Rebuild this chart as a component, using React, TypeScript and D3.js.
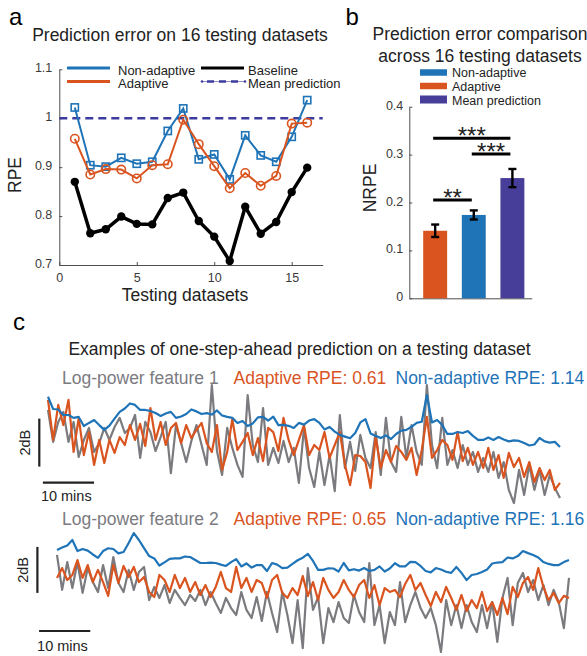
import React, { useRef, useEffect } from "react";
import * as d3 from "d3";

const W = 587;
const H = 656;
const FONT = "Arial, 'Liberation Sans', Helvetica, sans-serif";

const BLUE = "#1f74b8";
const ORANGE = "#d9541f";
const PURPLE = "#463e98";
const NAVY = "#3d3b9e";
const GRAY = "#7b7b7f";
const INK = "#222222";
const AXIS = "#4d4d4d";

// ---- panel a: RPE per testing dataset
const datasetIds = [1, 2, 3, 4, 5, 6, 7, 8, 9, 10, 11, 12, 13, 14, 15, 16];
const nonAdaptiveRpe = [1.022, 0.904, 0.901, 0.919, 0.907, 0.911, 0.974, 1.02, 0.916, 0.926, 0.875, 0.965, 0.924, 0.911, 0.962, 1.037];
const adaptiveRpe = [0.958, 0.885, 0.896, 0.895, 0.877, 0.904, 0.906, 0.997, 0.947, 0.902, 0.857, 0.888, 0.862, 0.882, 0.989, 0.991];
const baselineRpe = [0.87, 0.765, 0.773, 0.799, 0.784, 0.783, 0.837, 0.848, 0.79, 0.758, 0.708, 0.819, 0.764, 0.788, 0.849, 0.899];
const meanPredictionRpe = 1;
const rpeTicks = [0.7, 0.8, 0.9, 1.0, 1.1];
const rpeTickLabels = ["0.7", "0.8", "0.9", "1", "1.1"];
const datasetTicks = [0, 5, 10, 15];

// ---- panel b: NRPE summary
const methods = ["Adaptive", "Non-adaptive", "Mean prediction"];
const methodColors = [ORANGE, BLUE, PURPLE];
const nrpeMeans = [0.141, 0.174, 0.251];
const nrpeErrors = [0.013, 0.0095, 0.019];
const nrpeTicks = [0, 0.1, 0.2, 0.3, 0.4];
const nrpeTickLabels = ["0", "0.1", "0.2", "0.3", "0.4"];
const sigFrom = [1, 2, 1];
const sigTo = [3, 3, 2];
const sigLevels = [0.334, 0.301, 0.205];
const sigStars = ["***", "***", "**"];

// ---- panel c: example traces (dB, one sample per minute)
const featureNames = ["Log-power feature 1", "Log-power feature 2"];
const adaptiveScores = ["0.61", "0.65"];
const nonAdaptiveScores = ["1.14", "1.16"];

const feature1 = [
  3.96, 2.63, 3.46, 3.88, 2.63, 3.46, 2.0, 2.71, 3.21, 2.21,
  2.58, 3.21, 2.71, 3.25, 3.63, 3.0, 3.21, 3.75, 1.96, 3.46,
  3.04, 2.25, 2.83, 3.46, 1.33, 3.33, 2.58, 1.79, 2.67, 3.33,
  2.5, 1.67, 5.0, 2.25, 1.25, 3.21, 2.38, 1.67, 1.17, 4.58,
  2.5, 1.79, 4.04, 1.67, 2.38, 1.75, 2.67, 1.79, 2.38, 0.92,
  3.21, 1.54, 0.75, 2.21, 0.83, 2.08, 0.58, 3.75, 1.54, 2.63,
  1.42, 2.92, 1.96, 1.54, 3.04, 1.25, 3.63, 1.79, 1.38, 3.67,
  1.96, 3.33, 2.21, 1.67, 5.0, 2.5, 1.54, 3.63, 1.67, 2.29,
  1.54, 2.5, 1.67, 2.21, 1.38, 1.96, 1.38, 2.21, 1.13, 1.79,
  0.63, 0.08, 1.46, 0.42, 1.67, 0.63, 1.46, 0.42, 1.25, 0.71,
  0.29,
];
const adaptive1 = [
  4.38, 2.71, 4.17, 3.33, 4.38, 2.21, 3.63, 2.08, 3.04, 1.67,
  2.71, 1.75, 2.71, 2.17, 2.83, 2.5, 3.33, 2.71, 3.38, 2.46,
  4.04, 2.71, 3.46, 2.5, 3.21, 3.42, 2.58, 3.33, 2.79, 3.13,
  3.42, 2.58, 2.21, 3.33, 1.46, 2.21, 3.58, 2.29, 2.63, 3.0,
  2.08, 2.79, 1.83, 3.21, 3.04, 2.25, 3.63, 2.71, 2.08, 2.71,
  3.33, 2.08, 2.5, 2.29, 3.04, 1.96, 2.5, 3.04, 1.67, 0.83,
  2.08, 2.04, 1.79, 0.71, 2.83, 1.54, 2.29, 1.79, 2.46, 2.21,
  1.88, 2.38, 1.25, 2.29, 3.67, 1.96, 2.29, 2.71, 2.5, 1.88,
  3.04, 1.83, 2.38, 1.67, 2.21, 1.54, 2.38, 1.46, 2.08, 1.13,
  2.17, 1.58, 1.96, 1.17, 1.79, 0.96, 1.54, 1.04, 1.46, 0.63,
  0.92,
];
const nonAdaptive1 = [
  4.51, 4.0, 3.98, 3.75, 3.75, 3.63, 3.67, 3.29, 3.42, 3.54,
  3.33, 3.13, 3.31, 3.6, 3.88, 4.02, 4.23, 4.17, 3.96, 3.96,
  3.92, 3.83, 3.71, 3.81, 3.88, 3.63, 3.69, 3.79, 3.98, 3.9,
  3.79, 3.83, 3.77, 3.94, 3.73, 3.67, 3.63, 3.42, 3.5, 3.29,
  3.4, 3.65, 3.67, 3.52, 3.68, 3.33, 3.34, 3.3, 3.21, 3.42,
  3.35, 3.52, 3.58, 3.42, 3.15, 3.25, 3.06, 2.92, 2.85, 2.78,
  3.0, 3.44, 3.58, 2.98, 2.88, 2.79, 2.9, 2.75, 2.96, 3.1,
  3.13, 3.26, 3.42, 3.47, 4.58, 3.44, 3.54, 3.33, 2.96, 2.96,
  3.04, 3.0, 3.08, 2.88, 2.71, 2.71, 2.81, 2.71, 2.83, 2.73,
  2.65, 2.69, 2.67, 2.58, 2.48, 2.52, 2.79, 2.65, 2.6, 2.63,
  2.42,
];

const feature2 = [
  4.35, 2.83, 4.04, 2.91, 4.04, 2.7, 3.78, 3.17, 2.74, 3.91,
  2.91, 4.26, 3.13, 2.74, 3.7, 2.83, 3.61, 3.83, 2.39, 2.96,
  2.48, 3.04, 2.26, 2.83, 2.48, 2.17, 2.61, 2.35, 2.83, 2.17,
  2.74, 2.26, 1.83, 2.48, 2.04, 1.74, 2.74, 1.96, 1.61, 2.52,
  1.48, 2.74, 1.83, 1.0, 2.74, 1.74, 0.52, 2.39, 0.3, 3.78,
  1.96, 2.52, 0.52, 2.04, 1.43, 2.3, 1.61, 1.39, 2.61, 1.87,
  1.43, 4.0, 1.3, 2.17, 0.52, 1.87, 1.3, 3.17, 1.43, 2.17,
  2.74, 2.04, 1.61, 2.04, 1.3, 0.13, 2.39, 1.3, 2.17, 1.17,
  2.17, 1.43, 1.0, 2.17, 1.17, 2.3, 0.57, 2.48, 3.35, 1.3,
  3.13, 3.57, 2.74, 3.26, 2.39, 3.04, 2.17, 2.83, 2.3, 1.17,
  3.35,
];
const adaptive2 = [
  3.35, 3.78, 3.26, 3.48, 4.13, 3.35, 3.91, 3.17, 3.7, 3.17,
  2.57, 3.91, 3.13, 3.87, 3.39, 3.83, 3.17, 3.39, 2.74, 2.52,
  3.48, 3.26, 2.74, 3.48, 2.91, 3.35, 2.74, 3.17, 2.61, 3.04,
  2.52, 2.96, 3.61, 2.91, 2.74, 3.83, 2.91, 3.35, 2.74, 3.26,
  3.13, 2.48, 3.26, 3.48, 2.7, 2.48, 2.91, 2.61, 3.43, 2.57,
  3.17, 2.39, 3.35, 2.83, 2.48, 2.74, 3.26, 2.83, 2.52, 3.04,
  3.26, 2.48, 3.04, 2.17, 2.91, 2.74, 2.83, 2.52, 3.09, 3.48,
  2.83, 3.13, 2.61, 2.13, 2.74, 2.3, 2.96, 2.48, 1.96, 2.61,
  1.91, 2.39, 2.04, 2.74, 1.91, 2.3, 1.74, 2.48, 1.78, 2.96,
  2.52, 3.13, 3.39, 2.83, 3.78, 2.96, 2.39, 2.7, 2.26, 2.57,
  2.48,
];
const nonAdaptive2 = [
  4.57, 4.67, 4.76, 5.0, 4.52, 4.61, 4.54, 4.37, 4.22, 4.52,
  4.64, 4.61, 4.42, 4.48, 4.87, 5.3, 5.0, 4.65, 4.3, 4.2,
  3.89, 4.03, 4.18, 4.2, 4.2, 4.28, 4.26, 4.13, 4.0, 4.0,
  4.02, 4.0, 3.93, 3.87, 4.04, 4.17, 3.85, 3.98, 3.8, 3.91,
  3.91, 3.65, 4.0, 3.93, 3.78, 3.8, 3.96, 4.12, 4.23, 4.4,
  4.09, 3.7, 3.7, 3.77, 3.76, 3.63, 4.0, 3.68, 3.73, 3.67,
  3.78, 3.65, 3.7, 3.85, 3.63, 3.76, 3.99, 3.85, 3.85, 4.05,
  4.04, 3.87, 3.65, 3.59, 3.78, 3.72, 3.62, 3.57, 3.83, 3.57,
  3.26, 3.48, 3.52, 3.61, 3.72, 3.98, 4.02, 4.04, 4.24, 4.2,
  4.3, 4.52, 4.43, 4.35, 4.24, 4.04, 3.96, 3.91, 3.91, 4.04,
  4.13,
];

const App = () => {
  const svgRef = useRef<SVGSVGElement>(null);

  useEffect(() => {
    const svg = d3.select(svgRef.current);
    svg.selectAll("*").remove();

    const label = (x: number, y: number, s: string, size: number, color = INK, anchor = "start") =>
      svg
        .append("text")
        .attr("x", x)
        .attr("y", y)
        .attr("font-family", FONT)
        .attr("font-size", size)
        .attr("fill", color)
        .attr("text-anchor", anchor)
        .text(s);

    const vlabel = (x: number, y: number, s: string, size: number) =>
      svg
        .append("text")
        .attr("transform", `translate(${x},${y}) rotate(-90)`)
        .attr("font-family", FONT)
        .attr("font-size", size)
        .attr("fill", INK)
        .attr("text-anchor", "middle")
        .text(s);

    const styleAxis = (g: any) => {
      g.attr("font-family", FONT).attr("font-size", 12.5);
      g.select(".domain").attr("stroke", AXIS);
      g.selectAll(".tick line").attr("stroke", AXIS);
      g.selectAll(".tick text").attr("fill", "#3a3a3a");
    };

    // panel letters
    label(9, 25, "a", 24, "#000");
    label(345.5, 25, "b", 24, "#000");
    label(13, 330, "c", 24, "#000");

    // ================= panel a
    const xa = d3.scaleLinear().domain([0, 17]).range([59.3, 322.7]);
    const ya = d3.scaleLinear().domain([0.7, 1.1]).range([265, 69.3]);

    label(180, 41, "Prediction error on 16 testing datasets", 17.5, INK, "middle");

    const axAy = svg
      .append("g")
      .attr("transform", `translate(${xa(0)},0)`)
      .call(
        d3
          .axisLeft(ya)
          .tickValues(rpeTicks)
          .tickFormat((d, i) => rpeTickLabels[i])
          .tickSizeInner(-3)
          .tickSizeOuter(0)
          .tickPadding(7)
      );
    styleAxis(axAy);
    axAy.selectAll(".tick text").attr("dy", "0.2em");

    const axAx = svg
      .append("g")
      .attr("transform", `translate(0,${ya(0.7)})`)
      .call(
        d3
          .axisBottom(xa)
          .tickValues(datasetTicks)
          .tickSizeInner(-3)
          .tickSizeOuter(0)
          .tickPadding(8)
      );
    styleAxis(axAx);

    label(185, 301, "Testing datasets", 17.5, INK, "middle");
    vlabel(21, 175, "RPE", 17.5);

    // mean prediction reference
    svg
      .append("line")
      .attr("x1", xa(0))
      .attr("x2", xa(17))
      .attr("y1", ya(meanPredictionRpe))
      .attr("y2", ya(meanPredictionRpe))
      .attr("stroke", NAVY)
      .attr("stroke-width", 2.5)
      .attr("stroke-dasharray", "8 5");

    const lineA = d3
      .line<number>()
      .x((d, i) => xa(datasetIds[i]))
      .y((d) => ya(d));

    // baseline
    svg
      .append("path")
      .attr("d", lineA(baselineRpe))
      .attr("fill", "none")
      .attr("stroke", "#000")
      .attr("stroke-width", 3.5)
      .attr("stroke-linejoin", "round");
    svg
      .selectAll(".base-pt")
      .data(baselineRpe)
      .join("circle")
      .attr("cx", (d, i) => xa(datasetIds[i]))
      .attr("cy", (d) => ya(d))
      .attr("r", 4.2)
      .attr("fill", "#000");

    // non-adaptive
    svg
      .append("path")
      .attr("d", lineA(nonAdaptiveRpe))
      .attr("fill", "none")
      .attr("stroke", BLUE)
      .attr("stroke-width", 2);
    svg
      .selectAll(".na-pt")
      .data(nonAdaptiveRpe)
      .join("rect")
      .attr("x", (d, i) => xa(datasetIds[i]) - 3.6)
      .attr("y", (d) => ya(d) - 3.6)
      .attr("width", 7.2)
      .attr("height", 7.2)
      .attr("fill", "none")
      .attr("stroke", BLUE)
      .attr("stroke-width", 1.6);

    // adaptive
    svg
      .append("path")
      .attr("d", lineA(adaptiveRpe))
      .attr("fill", "none")
      .attr("stroke", ORANGE)
      .attr("stroke-width", 2);
    svg
      .selectAll(".ad-pt")
      .data(adaptiveRpe)
      .join("circle")
      .attr("cx", (d, i) => xa(datasetIds[i]))
      .attr("cy", (d) => ya(d))
      .attr("r", 4.2)
      .attr("fill", "none")
      .attr("stroke", ORANGE)
      .attr("stroke-width", 1.6);

    // legend a
    const legA = [
      { x: 67, y: 68, color: BLUE, w: 3, text: "Non-adaptive", ty: 74.5 },
      { x: 67, y: 81.5, color: ORANGE, w: 3, text: "Adaptive", ty: 88 },
      { x: 201, y: 68, color: "#000", w: 3.2, text: "Baseline", ty: 74.5 },
    ];
    legA.forEach((l) => {
      svg
        .append("line")
        .attr("x1", l.x)
        .attr("x2", l.x + 43)
        .attr("y1", l.y)
        .attr("y2", l.y)
        .attr("stroke", l.color)
        .attr("stroke-width", l.w);
      label(l.x + (l.x < 100 ? 51 : 47), l.ty, l.text, 13, INK);
    });
    svg
      .append("line")
      .attr("x1", 202)
      .attr("x2", 245)
      .attr("y1", 81.5)
      .attr("y2", 81.5)
      .attr("stroke", NAVY)
      .attr("stroke-width", 0.8)
      .attr("opacity", 0.7);
    svg
      .append("line")
      .attr("x1", 207)
      .attr("x2", 241)
      .attr("y1", 81.5)
      .attr("y2", 81.5)
      .attr("stroke", NAVY)
      .attr("stroke-width", 2.5)
      .attr("stroke-dasharray", "7 5");
    [202, 245].forEach((cx) =>
      svg.append("circle").attr("cx", cx).attr("cy", 81.5).attr("r", 1.3).attr("fill", NAVY)
    );
    label(248, 88, "Mean prediction", 13, INK);

    // ================= panel b
    const xb = d3.scaleLinear().domain([0.33, 3.5]).range([409.3, 531.7]);
    const yb = d3.scaleLinear().domain([0, 0.4]).range([298.3, 106.7]);

    label(480, 40, "Prediction error comparison", 17.5, INK, "middle");
    label(480, 62, "across 16 testing datasets", 17.5, INK, "middle");

    const axBy = svg
      .append("g")
      .attr("transform", `translate(${xb(0.33)},0)`)
      .call(
        d3
          .axisLeft(yb)
          .tickValues(nrpeTicks)
          .tickFormat((d, i) => nrpeTickLabels[i])
          .tickSizeInner(-3)
          .tickSizeOuter(0)
          .tickPadding(6)
      );
    styleAxis(axBy);
    axBy.selectAll(".tick text").attr("dy", "0.2em");

    const axBx = svg
      .append("g")
      .attr("transform", `translate(0,${yb(0)})`)
      .call(
        d3
          .axisBottom(xb)
          .tickValues([1, 2, 3])
          .tickFormat(() => "")
          .tickSizeInner(-3)
          .tickSizeOuter(0)
      );
    styleAxis(axBx);

    vlabel(375.5, 188, "NRPE", 17.5);

    const halfBar = xb(1.31) - xb(1);
    svg
      .selectAll(".bar")
      .data(nrpeMeans)
      .join("rect")
      .attr("x", (d, i) => xb(i + 1) - halfBar)
      .attr("y", (d) => yb(d))
      .attr("width", halfBar * 2)
      .attr("height", (d) => yb(0) - yb(d))
      .attr("fill", (d, i) => methodColors[i]);

    nrpeMeans.forEach((m, i) => {
      const cx = xb(i + 1);
      const lo = yb(m - nrpeErrors[i]);
      const hi = yb(m + nrpeErrors[i]);
      const g = svg.append("g").attr("stroke", "#000").attr("stroke-width", 2.4);
      g.append("line").attr("x1", cx).attr("x2", cx).attr("y1", lo).attr("y2", hi);
      g.append("line").attr("x1", cx - 4).attr("x2", cx + 4).attr("y1", lo).attr("y2", lo);
      g.append("line").attr("x1", cx - 4).attr("x2", cx + 4).attr("y1", hi).attr("y2", hi);
    });

    sigLevels.forEach((lv, i) => {
      const x1 = xb(sigFrom[i]) - 2;
      const x2 = xb(sigTo[i]) - 2;
      svg
        .append("line")
        .attr("x1", x1)
        .attr("x2", x2)
        .attr("y1", yb(lv))
        .attr("y2", yb(lv))
        .attr("stroke", "#000")
        .attr("stroke-width", 3);
      label((x1 + x2) / 2, yb(lv) + 6, sigStars[i], 24, INK, "middle");
    });

    // legend b (listed top to bottom: non-adaptive, adaptive, mean prediction)
    const legOrder = [1, 0, 2];
    const legRectY = [72.5, 86, 99.5];
    const legRectH = [6.5, 6.5, 8];
    const legTextY = [76.5, 90.5, 104.5];
    methods.forEach((m, i) => {
      const row = legOrder[i];
      svg
        .append("rect")
        .attr("x", 420)
        .attr("y", legRectY[row] - legRectH[row] / 2)
        .attr("width", 27)
        .attr("height", legRectH[row])
        .attr("fill", methodColors[i]);
      label(452, legTextY[row], m, 12.5, INK);
    });

    // ================= panel c
    label(299.5, 355, "Examples of one-step-ahead prediction on a testing dataset", 17.5, INK, "middle");

    const drawTrace = (
      k: number,
      feature: number[],
      adaptive: number[],
      nonAdaptive: number[],
      x0: number,
      yBase: number,
      pxPerDb: number,
      legendY: number,
      barX: number,
      barDb: number,
      minBarStart: number,
      minBarY: number,
      minTextY: number
    ) => {
      const x = d3.scaleLinear().domain([0, feature.length - 1]).range([x0, x0 + 512]);
      const y = d3.scaleLinear().domain([0, 1]).range([yBase, yBase - pxPerDb]);
      const line = d3
        .line<number>()
        .x((d, i) => x(i))
        .y((d) => y(d));
      [
        [feature, GRAY],
        [adaptive, ORANGE],
        [nonAdaptive, BLUE],
      ].forEach(([s, c]) => {
        svg
          .append("path")
          .attr("d", line(s as number[]))
          .attr("fill", "none")
          .attr("stroke", c as string)
          .attr("stroke-width", 2.2)
          .attr("stroke-linejoin", "round");
      });

      label(62, legendY, featureNames[k], 17.5, GRAY);
      label(233.5, legendY, `Adaptive RPE: ${adaptiveScores[k]}`, 17.5, ORANGE);
      label(395.5, legendY, `Non-adaptive RPE: ${nonAdaptiveScores[k]}`, 17.5, BLUE);

      // 2 dB scale bar
      svg
        .append("line")
        .attr("x1", barX)
        .attr("x2", barX)
        .attr("y1", y(barDb))
        .attr("y2", y(barDb + 2))
        .attr("stroke", INK)
        .attr("stroke-width", 2.2);
      vlabel(barX - 9, (y(barDb) + y(barDb + 2)) / 2, "2dB", 14.5);

      // 10 min scale bar
      svg
        .append("line")
        .attr("x1", x(minBarStart))
        .attr("x2", x(minBarStart + 10))
        .attr("y1", minBarY)
        .attr("y2", minBarY)
        .attr("stroke", INK)
        .attr("stroke-width", 2.2);
      label(x(minBarStart) - 2, minTextY, "10 mins", 14.5, INK);
    };

    drawTrace(0, feature1, adaptive1, nonAdaptive1, 48, 505, 24, 383.5, 39.3, 1.6, -1, 482.7, 500.5);
    drawTrace(1, feature2, adaptive2, nonAdaptive2, 57, 655, 23, 524.5, 37.4, 2.7, -3.5, 631, 650.5);
  }, []);

  return (
    <div>
      <svg
        ref={svgRef}
        width={W}
        height={H}
        viewBox={`0 0 ${W} ${H}`}
        style={{ position: "absolute", left: 0, top: 0, background: "#fff" }}
      ></svg>
    </div>
  );
};

export default App;
